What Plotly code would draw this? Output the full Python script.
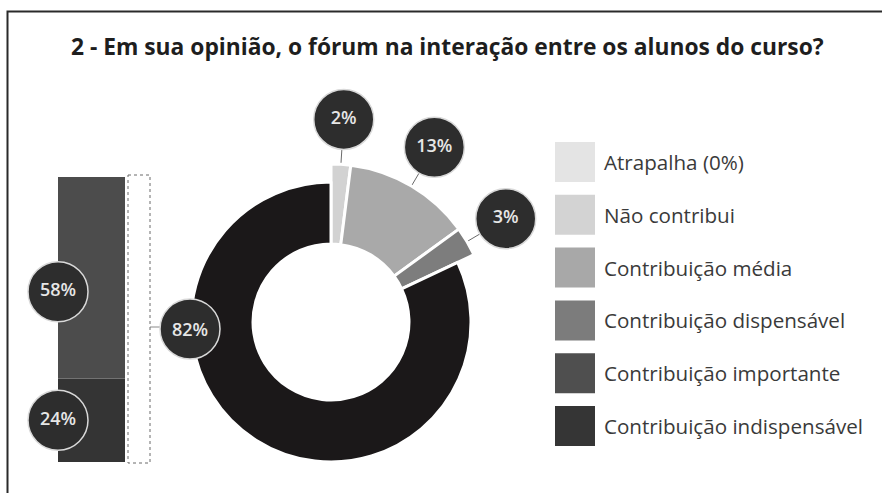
import math
import plotly.graph_objects as go

# ---------------- data ----------------
title_text = "2 - Em sua opinião, o fórum na interação entre os alunos do curso?"

legend_labels = ["Atrapalha (0%)", "Não contribui", "Contribuição média",
                 "Contribuição dispensável", "Contribuição importante",
                 "Contribuição indispensável"]
legend_colors = ["#e4e4e4", "#d3d3d3", "#a8a8a8", "#7c7c7c", "#4f4f4f", "#353535"]

donut_labels = ["Não contribui", "Contribuição média", "Contribuição dispensável",
                "Contribuição importante + indispensável"]
donut_values = [2, 13, 3, 82]
donut_colors = ["#d2d2d2", "#a9a9a9", "#7d7d7d", "#1b1819"]

bar_labels = ["Contribuição indispensável", "Contribuição importante"]
bar_values = [24, 58]
bar_colors = ["#343434", "#4c4c4c"]

# ---------------- geometry (pixels) ----------------
W, H = 882, 493
CX, CY = 331, 322          # donut centre (from top)
R_BIG, R_SMALL, R_HOLE = 158, 140, 78
R_LABEL = 203
BUB = 60                   # bubble diameter
BUB_FILL = "#2d2d2d"
BUB_LINE = "#d9d9d9"
BUB_FONT = dict(family="Open Sans", size=18, color="#e6e6e6", weight=600)

def dom_x(r):
    return [(CX - r) / W, (CX + r) / W]

def dom_y(r):
    cyb = H - CY
    return [(cyb - r) / H, (cyb + r) / H]

fig = go.Figure()

n = len(donut_values)
total_d = sum(donut_values)
# outer (larger radius) pie: light slices
fig.add_trace(go.Pie(
    values=donut_values, labels=donut_labels, sort=False, direction="clockwise",
    rotation=0, hole=R_HOLE / R_BIG, textinfo="none", hoverinfo="label+percent",
    domain=dict(x=dom_x(R_BIG), y=dom_y(R_BIG)), showlegend=False,
    marker=dict(colors=donut_colors[:-1] + ["rgba(0,0,0,0)"],
                line=dict(color="white", width=[3] * (n - 1) + [0])),
))
# inner pie: the big black slice
fig.add_trace(go.Pie(
    values=donut_values, labels=donut_labels, sort=False, direction="clockwise",
    rotation=0, hole=R_HOLE / R_SMALL, textinfo="none", hoverinfo="label+percent",
    domain=dict(x=dom_x(R_SMALL), y=dom_y(R_SMALL)), showlegend=False,
    marker=dict(colors=["rgba(0,0,0,0)"] * (n - 1) + [donut_colors[-1]],
                line=dict(color="white", width=[0] * (n - 1) + [3])),
))

# ---------------- stacked bar (axis x3/y3) ----------------
BAR_L, BAR_R, BAR_TOP, BAR_BOT = 58, 125, 177, 462
BR_L, BR_R = 128, 150
px_per_unit = BAR_R - BAR_L
total = sum(bar_values)
bases = [0, bar_values[0]]
for lab, v, c, b in zip(bar_labels, bar_values, bar_colors, bases):
    fig.add_trace(go.Bar(x=[0], y=[v], base=[b], width=1, marker=dict(color=c, line=dict(width=0)),
                         name=lab, showlegend=False, xaxis="x3", yaxis="y3",
                         hoverinfo="name+y"))

# bubbles on bar
bar_mid = [b + v / 2 for v, b in zip(bar_values, bases)]
bar_mid_adj = [bar_mid[0], bar_mid[1] - 4]
fig.add_trace(go.Scatter(
    x=[-0.5] * len(bar_values), y=bar_mid_adj, mode="markers+text",
    text=[f"{v}%" for v in bar_values], textposition="middle center",
    textfont=BUB_FONT,
    marker=dict(size=BUB, color=BUB_FILL, line=dict(color=BUB_LINE, width=1.5)),
    cliponaxis=False, showlegend=False, xaxis="x3", yaxis="y3", hoverinfo="skip"))

# ---------------- pixel overlay axis (x2/y2) ----------------
cum = 0
bx, by, lx, ly, btxt = [], [], [], [], []
for v in donut_values[:-1]:
    mid = (cum + v / 2) / total_d
    th = 2 * math.pi * mid
    bx.append(CX + R_LABEL * math.sin(th))
    by.append(CY - R_LABEL * math.cos(th))
    r0, r1 = R_BIG + 1, R_LABEL - BUB / 2
    lx += [CX + r0 * math.sin(th), CX + r1 * math.sin(th), None]
    ly += [CY - r0 * math.cos(th), CY - r1 * math.cos(th), None]
    btxt.append(f"{v}%")
    cum += v

fig.add_trace(go.Scatter(x=lx, y=ly, mode="lines", line=dict(color="#6a6a6a", width=1),
                         showlegend=False, xaxis="x2", yaxis="y2", hoverinfo="skip"))

fig.add_trace(go.Scatter(
    x=bx, y=by, mode="markers+text",
    text=btxt, textposition="middle center", textfont=BUB_FONT,
    marker=dict(size=BUB, color=BUB_FILL, line=dict(color=BUB_LINE, width=1.5)),
    cliponaxis=False, showlegend=False, xaxis="x2", yaxis="y2", hoverinfo="skip"))

# bracket connector + 82% bubble (as shape so it sits above the donut)
big_x = CX - R_SMALL - 1
big_y = CY + 7
fig.add_trace(go.Scatter(x=[BR_R, big_x - BUB / 2], y=[big_y - 2, big_y - 2], mode="lines",
                         line=dict(color="#8a8a8a", width=1),
                         showlegend=False, xaxis="x2", yaxis="y2", hoverinfo="skip"))

# legend squares
LEG_X, LEG_TOP, LEG_STEP, LEG_BOX = 575, 162, 52.8, 40
leg_y = [LEG_TOP + i * LEG_STEP for i in range(len(legend_labels))]
fig.add_trace(go.Scatter(
    x=[LEG_X] * len(legend_labels), y=leg_y, mode="markers",
    marker=dict(symbol="square", size=LEG_BOX, color=legend_colors, line=dict(width=0)),
    showlegend=False, xaxis="x2", yaxis="y2", hovertext=legend_labels, hoverinfo="text"))

annotations = []
for lab, y in zip(legend_labels, leg_y):
    annotations.append(dict(x=LEG_X + LEG_BOX / 2 + 7, y=y, xref="x2", yref="y2", text=lab,
                            showarrow=False, xanchor="left", yanchor="middle",
                            font=dict(family="Open Sans", size=20.6, color="#3a3a3a")))
annotations.append(dict(x=447, y=46, xref="x2", yref="y2", text=title_text, showarrow=False,
                        xanchor="center", yanchor="middle",
                        font=dict(family="Open Sans", size=22.8, color="#1e1e1e", weight="bold")))
annotations.append(dict(x=big_x, y=big_y, xref="x2", yref="y2", text=f"{donut_values[-1]}%",
                        showarrow=False, xanchor="center", yanchor="middle", font=BUB_FONT))

shapes = [
    # outer frame
    dict(type="rect", xref="x2", yref="y2", x0=7.5, y0=11.5, x1=W + 10, y1=H + 10,
         line=dict(color="#2a2a2a", width=2), layer="below"),
    # dashed bracket
    dict(type="rect", xref="x2", yref="y2", x0=BR_L, y0=BAR_TOP - 2, x1=BR_R, y1=BAR_BOT + 1,
         line=dict(color="#6a6a6a", width=1, dash="dot")),
    # 82% bubble
    dict(type="circle", xref="x2", yref="y2", x0=big_x - BUB / 2, x1=big_x + BUB / 2,
         y0=big_y - BUB / 2, y1=big_y + BUB / 2, fillcolor=BUB_FILL,
         line=dict(color=BUB_LINE, width=1.5), layer="above"),
]

bar_range_r = 0.5 + (BR_R + 2 - BAR_R) / px_per_unit
fig.update_layout(
    width=W, height=H, margin=dict(l=0, r=0, t=0, b=0),
    paper_bgcolor="white", plot_bgcolor="rgba(0,0,0,0)",
    xaxis2=dict(domain=[0, 1], range=[0, W], visible=False, fixedrange=True),
    yaxis2=dict(domain=[0, 1], range=[H, 0], visible=False, fixedrange=True, anchor="x2"),
    xaxis3=dict(domain=[BAR_L / W, (BR_R + 2) / W], range=[-0.5, bar_range_r], visible=False,
                fixedrange=True),
    yaxis3=dict(domain=[(H - BAR_BOT) / H, (H - BAR_TOP) / H], range=[0, total], visible=False,
                fixedrange=True, anchor="x3"),
    annotations=annotations, shapes=shapes, barmode="overlay",
)

fig.write_html("out.html", config={"displayModeBar": False},
               post_script="document.body.style.margin='0';document.body.style.overflow='hidden';")
